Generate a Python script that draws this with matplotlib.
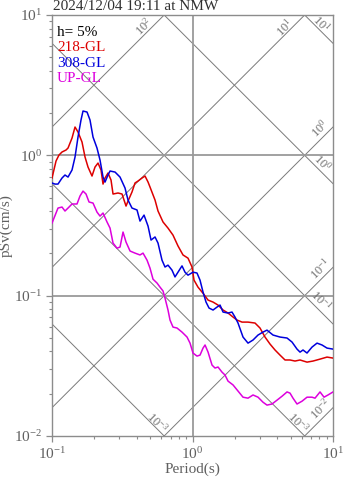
import numpy as np
import matplotlib
matplotlib.use("Agg")
import matplotlib.pyplot as plt
from matplotlib.ticker import LogLocator, NullFormatter

plt.rcParams['font.family'] = ['Liberation Serif', 'DejaVu Serif']
plt.rcParams['mathtext.fontset'] = 'custom'
plt.rcParams['mathtext.rm'] = 'Liberation Serif'
plt.rcParams['mathtext.it'] = 'Liberation Serif:italic'

title = "2024/12/04 19:11 at NMW"
damping = "h= 5%"

# 218-GL
period_218 = [0.1000, 0.1068, 0.1121, 0.1178, 0.1258, 0.1300, 0.1388, 0.1458, 0.1531, 0.1635,
              0.1718, 0.1804, 0.1926, 0.2023, 0.2125, 0.2233, 0.2307, 0.2384, 0.2504, 0.2630,
              0.2718, 0.2950, 0.3150, 0.3363, 0.3475, 0.3709, 0.3896, 0.4094, 0.4372, 0.4592,
              0.4825, 0.4984, 0.5410, 0.5681, 0.6166, 0.6692, 0.7263, 0.7883, 0.8556, 0.9290,
              0.9918, 1.025, 1.094, 1.188, 1.290, 1.400, 1.519, 1.649, 1.790, 1.943,
              2.074, 2.251, 2.483, 2.785, 3.022, 3.281, 3.561, 3.865, 4.196, 4.554,
              4.943, 5.365, 5.824, 6.530, 7.207, 8.082, 9.064, 10.0]
psv_218 = [0.689, 0.911, 1.005, 1.056, 1.091, 1.127, 1.328, 1.591, 1.466, 1.244,
           0.972, 0.825, 0.712, 0.825, 0.881, 0.786, 0.624, 0.689, 0.748, 0.667,
           0.530, 0.539, 0.530, 0.435, 0.472, 0.548, 0.635, 0.656, 0.689, 0.712,
           0.645, 0.594, 0.480, 0.401, 0.335, 0.303, 0.270, 0.226, 0.195, 0.185,
           0.160, 0.129, 0.115, 0.104, 0.0930, 0.0900, 0.0857, 0.0790, 0.0752, 0.0704,
           0.0670, 0.0648, 0.0648, 0.0638, 0.0588, 0.0507, 0.0452, 0.0410, 0.0377, 0.0348,
           0.0348, 0.0342, 0.0348, 0.0336, 0.0342, 0.0353, 0.0365, 0.0359]

# 308-GL
period_308 = [0.1000, 0.1050, 0.1103, 0.1178, 0.1237, 0.1300, 0.1388, 0.1458, 0.1531, 0.1608,
              0.1662, 0.1775, 0.1864, 0.1958, 0.2090, 0.2196, 0.2307, 0.2384, 0.2504, 0.2588,
              0.2809, 0.3048, 0.3308, 0.3475, 0.3709, 0.4027, 0.4230, 0.4518, 0.4825, 0.5066,
              0.5410, 0.5681, 0.6066, 0.6372, 0.6692, 0.7145, 0.7504, 0.7883, 0.8417, 0.8842,
              0.9290, 1.008, 1.076, 1.131, 1.188, 1.248, 1.311, 1.400, 1.494, 1.570,
              1.649, 1.790, 1.910, 2.006, 2.108, 2.288, 2.483, 2.696, 2.926, 3.176,
              3.390, 3.741, 4.196, 4.706, 5.108, 5.544, 5.824, 6.116, 6.530, 7.089,
              7.695, 8.352, 9.064, 10.0]
psv_308 = [0.635, 0.624, 0.624, 0.689, 0.724, 0.700, 0.786, 0.972, 1.350, 1.785,
           2.069, 2.035, 1.785, 1.350, 1.127, 0.926, 0.700, 0.645, 0.724, 0.773,
           0.760, 0.700, 0.585, 0.480, 0.421, 0.408, 0.340, 0.375, 0.313, 0.249,
           0.262, 0.237, 0.179, 0.160, 0.165, 0.152, 0.136, 0.147, 0.163, 0.147,
           0.140, 0.147, 0.145, 0.129, 0.106, 0.0900, 0.0816, 0.0790, 0.0829, 0.0857,
           0.0764, 0.0752, 0.0764, 0.0704, 0.0638, 0.0507, 0.0459, 0.0483, 0.0524, 0.0550,
           0.0568, 0.0524, 0.0507, 0.0499, 0.0467, 0.0416, 0.0396, 0.0410, 0.0390, 0.0430,
           0.0459, 0.0445, 0.0423, 0.0416]

# UP-GL
period_up = [0.1000, 0.1033, 0.1103, 0.1178, 0.1237, 0.1300, 0.1388, 0.1506, 0.1582, 0.1662,
             0.1746, 0.1834, 0.1958, 0.2090, 0.2196, 0.2307, 0.2463, 0.2588, 0.2718, 0.2901,
             0.3048, 0.3202, 0.3363, 0.3593, 0.3896, 0.4230, 0.4444, 0.4746, 0.4984, 0.5235,
             0.5589, 0.5871, 0.6166, 0.6372, 0.6692, 0.6916, 0.7263, 0.7755, 0.8417, 0.9140,
             0.9600, 1.008, 1.076, 1.131, 1.188, 1.228, 1.290, 1.377, 1.446, 1.519,
             1.622, 1.703, 1.790, 1.943, 2.108, 2.288, 2.483, 2.696, 2.926, 3.176,
             3.390, 3.680, 3.994, 4.335, 4.706, 4.943, 5.191, 5.544, 6.017, 6.530,
             7.089, 7.444, 8.082, 8.630, 9.213, 10.0]
psv_up = [0.329, 0.357, 0.421, 0.428, 0.401, 0.421, 0.450, 0.450, 0.513, 0.556,
          0.530, 0.465, 0.457, 0.394, 0.369, 0.388, 0.335, 0.303, 0.237, 0.218,
          0.222, 0.284, 0.241, 0.208, 0.201, 0.195, 0.201, 0.179, 0.157, 0.131,
          0.123, 0.115, 0.108, 0.0961, 0.0790, 0.0670, 0.0597, 0.0588, 0.0550, 0.0507,
          0.0459, 0.0390, 0.0371, 0.0377, 0.0423, 0.0445, 0.0396, 0.0320, 0.0305, 0.0310,
          0.0285, 0.0272, 0.0246, 0.0231, 0.0209, 0.0189, 0.0186, 0.0196, 0.0189, 0.0174,
          0.0166, 0.0169, 0.0180, 0.0192, 0.0206, 0.0202, 0.0186, 0.0169, 0.0177, 0.0189,
          0.0189, 0.0186, 0.0206, 0.0189, 0.0196, 0.0206]

series = [("218-GL", period_218, psv_218, "#dd0000"),
          ("308-GL", period_308, psv_308, "#0000dd"),
          ("UP-GL", period_up, psv_up, "#dd00dd")]

# tripartite guide lines: acceleration (gal) and displacement (cm)
acc_levels = [1e2, 1e1, 1e0, 1e-1, 1e-2]
acc_labels = ["$10^{2}$", "$10^{1}$", "$10^{0}$", "$10^{-1}$", "$10^{-2}$"]
acc_label_pos = [(0.452, 8.2), (4.55, 8.1), (8.1, 1.56), (8.1, 0.156), (8.1, 0.0156)]
disp_levels = [1e1, 1e0, 1e-1, 1e-2, 1e-3]
disp_labels = ["$10^{1}$", "$10^{0}$", "$10^{-1}$", "$10^{-3}$", "$10^{-3}$"]
disp_label_pos = [(8.3, 8.7), (8.4, 0.88), (8.2, 0.093), (5.6, 0.0124), (0.56, 0.0124)]

grey = "#8c8c8c"
text_grey = "#606060"

fig = plt.figure(figsize=(3.47, 4.78), dpi=100)
ax = fig.add_axes([0.1499, 0.0879, 0.8098, 0.8807])
ax.set_xscale('log')
ax.set_yscale('log')
ax.set_xlim(0.1, 10)
ax.set_ylim(0.01, 10)

tt = np.logspace(-1, 1, 200)
for a in acc_levels:
    ax.plot(tt, a * tt / (2 * np.pi), color='#7a7a7a', lw=0.7, zorder=1)
for d in disp_levels:
    ax.plot(tt, 2 * np.pi * d / tt, color='#7a7a7a', lw=0.7, zorder=1)
for lab, (px, py) in zip(acc_labels, acc_label_pos):
    ax.text(px, py, lab, rotation=45, ha='center', va='center', fontsize=9,
            color='#707070', zorder=2)
for lab, (px, py) in zip(disp_labels, disp_label_pos):
    ax.text(px, py, lab, rotation=-45, ha='center', va='center', fontsize=9,
            color='#707070', zorder=2)

# decade grid
ax.axvline(1.0, color='#9a9a9a', lw=1.3, zorder=1)
for v in [1.0, 0.1]:
    ax.axhline(v, color='#9a9a9a', lw=1.3, zorder=1)

for name, t, sv, c in series:
    ax.plot(t, sv, color=c, lw=1.1, zorder=3)

ax.text(0.018, 0.975, damping, transform=ax.transAxes, ha='left', va='top',
        fontsize=11, color='black')
for i, (name, t, sv, c) in enumerate(series):
    ax.text(0.018, 0.975 - 0.037 * (i + 1), name, transform=ax.transAxes,
            ha='left', va='top', fontsize=11, color=c)

for sp in ax.spines.values():
    sp.set_color(grey)
    sp.set_linewidth(1.0)
ax.xaxis.set_major_locator(LogLocator(base=10, numticks=10))
ax.yaxis.set_major_locator(LogLocator(base=10, numticks=10))
ax.xaxis.set_minor_locator(LogLocator(base=10, subs=np.arange(2, 10), numticks=20))
ax.yaxis.set_minor_locator(LogLocator(base=10, subs=np.arange(2, 10), numticks=20))
ax.xaxis.set_minor_formatter(NullFormatter())
ax.yaxis.set_minor_formatter(NullFormatter())
ax.tick_params(which='major', direction='out', length=4, width=0.9, color=grey,
               labelcolor=text_grey, labelsize=11, pad=3)
ax.tick_params(which='minor', direction='out', length=2.5, width=0.8, color=grey)

ax.set_xlabel("Period(s)", fontsize=11, color=text_grey, labelpad=1)
ax.set_ylabel("pSv(cm/s)", fontsize=11, color=text_grey)
ax.yaxis.set_label_coords(-0.14, 0.5)
fig.text(0.1527, 0.9735, title, ha='left', va='bottom', fontsize=11, color='#303030')

fig.savefig("out.png", dpi=100)
